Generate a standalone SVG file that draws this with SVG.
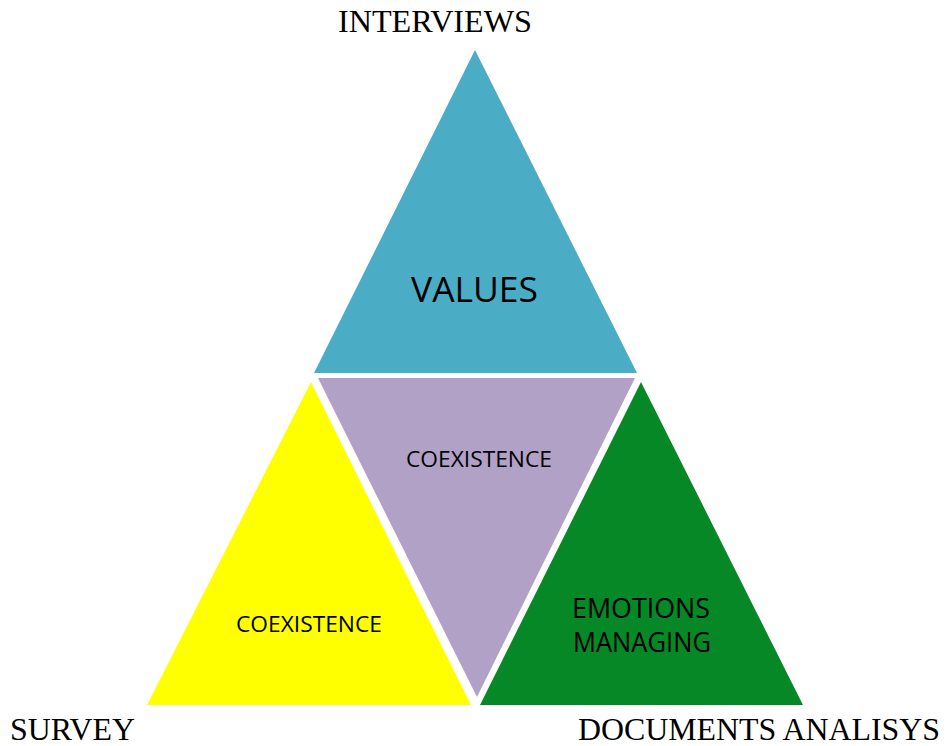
<svg xmlns="http://www.w3.org/2000/svg" width="945" height="746" viewBox="0 0 945 746">
<style>
.serif{font-family:"Liberation Serif","Times New Roman",serif;font-size:32px;fill:#000}
.sans{font-family:"Open Sans","Liberation Sans",sans-serif;fill:#000;text-anchor:middle}
</style>
<rect width="945" height="746" fill="#fff"/>
<g id="values">
<polygon points="475,50 314,373 637,373" fill="#4BACC6"/>
<text class="sans" x="474.5" y="302" font-size="34" textLength="127" lengthAdjust="spacingAndGlyphs">VALUES</text>
</g>
<g id="coexistence-center">
<polygon points="318,378 635,378 477,697" fill="#B2A1C7"/>
<text class="sans" x="479" y="467" font-size="21" textLength="146" lengthAdjust="spacingAndGlyphs">COEXISTENCE</text>
</g>
<g id="coexistence-left">
<polygon points="311,382 147,705 471,705" fill="#FFFF00"/>
<text class="sans" x="309" y="632" font-size="21" textLength="146" lengthAdjust="spacingAndGlyphs">COEXISTENCE</text>
</g>
<g id="emotions">
<polygon points="641,382 480,705 803,705" fill="#078826"/>
<text class="sans" x="641" y="618" font-size="27" textLength="138" lengthAdjust="spacingAndGlyphs">EMOTIONS</text>
<text class="sans" x="642" y="652" font-size="27" textLength="138" lengthAdjust="spacingAndGlyphs">MANAGING</text>
</g>
<g id="labels">
<text class="serif" x="338" y="32" textLength="194" lengthAdjust="spacingAndGlyphs">INTERVIEWS</text>
<text class="serif" x="10" y="740" textLength="125" lengthAdjust="spacingAndGlyphs">SURVEY</text>
<text class="serif" x="578" y="740" textLength="362" lengthAdjust="spacingAndGlyphs">DOCUMENTS ANALISYS</text>
</g>
<g id="connectors"></g>
</svg>
